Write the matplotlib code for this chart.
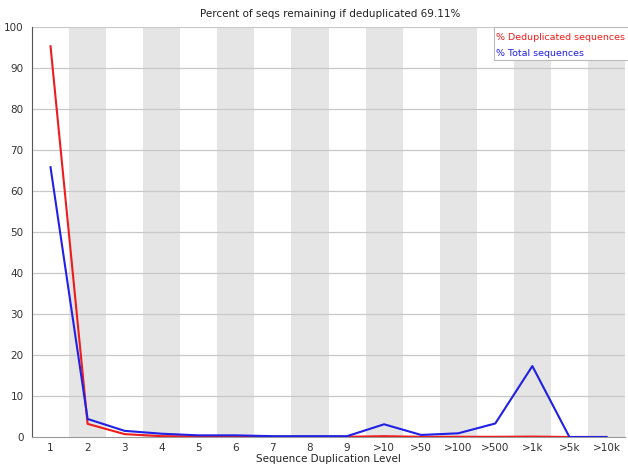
import matplotlib
matplotlib.use("Agg")
import matplotlib.pyplot as plt
from matplotlib.patches import Rectangle

levels = ["1", "2", "3", "4", "5", "6", "7", "8", "9", ">10", ">50", ">100", ">500", ">1k", ">5k", ">10k"]
dedup_pct = [95.3, 3.2, 0.7, 0.2, 0.1, 0.1, 0.05, 0.05, 0.05, 0.2, 0.05, 0.05, 0.05, 0.1, 0.0, 0.0]
total_pct = [65.8, 4.4, 1.5, 0.8, 0.4, 0.4, 0.2, 0.2, 0.2, 3.1, 0.5, 0.9, 3.3, 17.3, 0.0, 0.0]
title = "Percent of seqs remaining if deduplicated 69.11%"

plt.rcParams["font.family"] = "DejaVu Sans"
fig = plt.figure(figsize=(6.28, 4.68), dpi=100)
ax = fig.add_axes([32 / 628, 31 / 468, 593 / 628, 410 / 468])

n = len(levels)
x = list(range(n))
for i in range(1, n, 2):
    ax.axvspan(i - 0.5, i + 0.5, color="#e5e5e5", lw=0, zorder=0)
for yv in range(10, 101, 10):
    ax.axhline(yv, color="#c8c8c8", lw=0.9, zorder=1)

ax.plot(x, dedup_pct, color="#ee1c1c", lw=1.5, zorder=3)
ax.plot(x, total_pct, color="#2020e6", lw=1.5, zorder=4)

ax.set_xlim(-0.5, n - 0.5)
ax.set_ylim(0, 100)
ax.set_xticks(x)
ax.set_xticklabels(levels)
ax.set_yticks(range(0, 101, 10))
ax.tick_params(axis="y", length=0, labelsize=7.5, colors="#333333", pad=6)
ax.tick_params(axis="x", length=0, labelsize=7.5, colors="#333333", pad=4)
for s in ("top", "right"):
    ax.spines[s].set_visible(False)
ax.spines["left"].set_color("#555555")
ax.spines["bottom"].set_color("#999999")
ax.set_xlabel("Sequence Duplication Level", fontsize=7.5, color="#222222", labelpad=1)
fig.text(330 / 628, 1 - 14 / 468, title, ha="center", va="center", fontsize=7.5, color="#222222")

# legend box in the upper right corner
box = Rectangle((494 / 628, 1 - 60 / 468), 140 / 628, 33 / 468, transform=fig.transFigure,
                facecolor="white", edgecolor="#bbbbbb", lw=0.8, zorder=5)
fig.add_artist(box)
fig.text(496 / 628, 1 - 38 / 468, "% Deduplicated sequences", fontsize=6.8, color="#ee1c1c",
         va="center", ha="left", zorder=6)
fig.text(496 / 628, 1 - 54 / 468, "% Total sequences", fontsize=6.8, color="#2020e6",
         va="center", ha="left", zorder=6)

fig.savefig("out.png", dpi=100)
